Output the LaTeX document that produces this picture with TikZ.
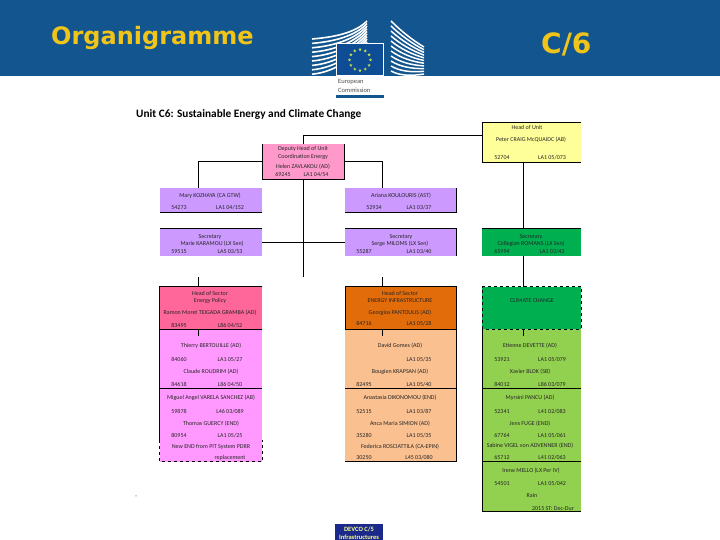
\documentclass[tikz,border=0pt]{standalone}
\usepackage{fontspec}
\setmainfont{Carlito}
\newfontfamily\bannerfont{DejaVu Sans}
\usetikzlibrary{positioning,calc,shapes.geometric}
\definecolor{ecBand}{HTML}{13558F}
\definecolor{ecGold}{HTML}{F0C419}
\definecolor{ecFlag}{HTML}{0F4C96}
\definecolor{ecStar}{HTML}{C4E04A}
\definecolor{ecNavy}{HTML}{1B2A8A}
\definecolor{ecPale}{HTML}{FFFF8C}
\definecolor{unitYellow}{HTML}{FFFF99}
\definecolor{unitPink}{HTML}{FF99CC}
\definecolor{unitLilac}{HTML}{CC99FF}
\definecolor{unitGreen}{HTML}{00B050}
\definecolor{sectorRed}{HTML}{FF6699}
\definecolor{sectorOrange}{HTML}{E36C0A}
\definecolor{staffMagenta}{HTML}{FF99FF}
\definecolor{staffPeach}{HTML}{FAC090}
\definecolor{staffGreen}{HTML}{92D050}
\tikzset{
  panel/.style={anchor=north west, inner sep=0pt, outer sep=0pt},
  rowtext/.style={anchor=base, yshift=-2pt, inner sep=0pt, font=\fontsize{6}{7}\selectfont, color=black!85},
  wire/.style={black, line width=0.8pt},
  dashwire/.style={black, line width=0.8pt, dashed},
  euStar/.style={star, star points=5, star point ratio=2.4, fill=ecStar, inner sep=0pt, minimum size=3.4pt}
}
\begin{document}
\begin{tikzpicture}[x=1pt,y=-1pt]
\useasboundingbox (0,0) rectangle (720,540);

% --- BANNER ---
\fill[ecBand] (0,0) rectangle (720,76);
\node[anchor=west, inner sep=0pt, font=\bannerfont\bfseries\fontsize{24}{26}\selectfont, color=ecGold]
  (bannerTitle) at (51,38) {Organigramme};
\node[anchor=west, inner sep=0pt, font=\bannerfont\bfseries\fontsize{28}{30}\selectfont, color=ecGold]
  (bannerCode) at (541,44) {C/6};

% --- LOGO ---
\foreach \k in {0,...,8} {
  \draw[white, line width=1.6pt]
    (312,{39+4.4*\k}) .. controls (335,{37+4.4*\k}) and (355,{33+3*\k}) .. (367,{21+2.6*\k});
}
\foreach \k in {0,...,10} {
  \draw[white, line width=1.5pt]
    (391,{21+5*\k}) .. controls (400,{30+4.6*\k}) and (412,{40+3.6*\k}) .. (424,{47+2.7*\k});
}
\fill[white] (335.7,43) rectangle (384,98);
\fill[ecFlag] (337,44) rectangle (383,75);
\fill[ecBand] (335.7,95.5) rectangle (384,98);
\foreach \s in {0,30,...,330} {
  \node[euStar] (star\s) at ({360+10.5*cos(\s)},{60+10.5*sin(\s)}) {};
}
\node[anchor=west, inner sep=0pt, font=\fontsize{6.5}{7}\selectfont, color=black!70] (logoEuropean) at (338,81.5) {European};
\node[anchor=west, inner sep=0pt, font=\fontsize{6.5}{7}\selectfont, color=black!70] (logoCommission) at (338,90.5) {Commission};

\node[anchor=west, inner sep=0pt, font=\bfseries\fontsize{11.3}{12}\selectfont] (unitTitle) at (136,114)
  {Unit C6: Sustainable Energy and Climate Change};

% --- BOXES ---
\node[panel, fill=unitYellow, minimum width=99pt, minimum height=40pt] (headBox) at (482,122) {};
\node[panel, fill=unitPink, minimum width=82.5pt, minimum height=35pt] (deputyBox) at (262,144) {};
\node[panel, fill=unitLilac, minimum width=102.5pt, minimum height=24pt] (maryBox) at (159.5,188) {};
\node[panel, fill=unitLilac, minimum width=111.5pt, minimum height=24pt] (arianaBox) at (345,188) {};
\node[panel, fill=unitLilac, minimum width=102.5pt, minimum height=28pt] (secLeftBox) at (159.5,228) {};
\node[panel, fill=unitLilac, minimum width=111.5pt, minimum height=28pt] (secMidBox) at (345,228) {};
\node[panel, fill=unitGreen, minimum width=99pt, minimum height=28pt] (secRightBox) at (482,228) {};
\node[panel, fill=sectorRed, minimum width=102.5pt, minimum height=42.5pt] (policyBox) at (159.5,286.5) {};
\node[panel, fill=sectorOrange, minimum width=111.5pt, minimum height=42.5pt] (infraBox) at (345,286.5) {};
\node[panel, fill=unitGreen, minimum width=99pt, minimum height=42.5pt] (climateBox) at (482,286.5) {};
\node[panel, fill=staffMagenta, minimum width=102.5pt, minimum height=132.5pt] (policyStaff) at (159.5,329) {};
\node[panel, fill=staffPeach, minimum width=111.5pt, minimum height=132.5pt] (infraStaff) at (345,329) {};
\node[panel, fill=staffGreen, minimum width=99pt, minimum height=182.5pt] (climateStaff) at (482,329) {};
\node[panel, fill=ecNavy, minimum width=48pt, minimum height=16pt] (devcoBox) at (335,524) {};

% --- BOX EDGES ---
\draw[wire] (headBox.north east) -- (headBox.north west) -- (headBox.south west) -- (headBox.south east);
\draw[wire] (deputyBox.north west) -- (deputyBox.south west) -- (deputyBox.south east) -- (deputyBox.north east);
\draw[wire] (maryBox.south west) -- (maryBox.south east);
\draw[wire] (arianaBox.north east) -- (arianaBox.south east) -- (arianaBox.south west);
\draw[wire] (secLeftBox.north west) -- (secLeftBox.north east);
\draw[wire] (secMidBox.north west) -- (secMidBox.north east) -- (secMidBox.south east);
\draw[wire] (secRightBox.north west) -- (secRightBox.north east);
\draw[wire] (policyBox.south east) -- (policyBox.south west) -- (policyBox.north west) -- (policyBox.north east);
\draw[wire] (infraBox.south west) rectangle (infraBox.north east);
\draw[dashwire] (climateBox.south west) rectangle (climateBox.north east);
\draw[wire] (policyStaff.north west) -- (159.5,440);
\draw[dashwire] (159.5,440) -- (policyStaff.south west) -- (policyStaff.south east) -- (262,440);
\draw[wire] (infraStaff.north east) -- (infraStaff.south east) -- (infraStaff.south west);
\draw[wire] (climateStaff.north west) -- (climateStaff.south west) -- (climateStaff.south east);
\foreach \boxName in {policyStaff,infraStaff,climateStaff} {
  \draw[wire] ($(\boxName.north west)+(0,59)$) -- ($(\boxName.north east)+(0,59)$);
}
\draw[wire] ($(climateStaff.north west)+(0,132)$) -- ($(climateStaff.north east)+(0,132)$);

% --- CONNECTORS ---
\coordinate (headTap) at (482,135);
\coordinate (deputyTop) at (303.3,144);
\coordinate (deputyFoot) at (303.3,179);
\coordinate (deputyEnd) at (303.3,277);
\draw[wire] (headTap) -| (deputyTop);
\draw[wire] (deputyBox.west) -| (198.3,188);
\draw[wire] (deputyBox.east) -| (382,188);
\draw[wire] (deputyFoot) -- (deputyEnd);
\draw[wire] (secLeftBox.east) -- (secMidBox.west);
\draw[wire] (523,162) -- (523,228);
\draw[wire] (523,256) -- (523,286.5);
\draw[wire] (198.3,277) -- (198.3,286.5);
\draw[wire] (382,277) -- (382,286.5);
\draw[wire] (198.3,329) -- (198.3,336);
\draw[wire] (382,329) -- (382,336);
\draw[wire] (523,329) -- (523,336);

% --- TEXT ROWS ---
\foreach \xv/\yv/\lab [count=\n] in {
  527/128/{Head of Unit}, 531/140/{Peter CRAIG McQUAIDC (AB)}, 502/158/{52704}, 552/158/{LA1 05/073},
  303/149/{Deputy Head of Unit}, 303/157/{Coordination Energy}, 303/167/{Helen ZAVLAKOU (AD)}, 283/175/{69245}, 316/175/{LA1 04/54},
  210/196/{Mary KOZHAYA (CA GTW)}, 179/208/{54273}, 230/208/{LA1 04/152},
  401/196/{Ariana KOULOURIS (AST)}, 374/208/{52934}, 419/208/{LA1 03/37},
  210/236/{Secretary}, 212/243/{Marie KARAMOU (LX Sen)}, 179/252/{59515}, 230/252/{LA5 03/53},
  401/236/{Secretary}, 400/243/{Serge MILOMS (LX Sen)}, 364/252/{55287}, 419/252/{LA1 03/40},
  531/236/{Secretary}, 531/243/{Collegian ROMANS (LX Sen)}, 502/252/{65994}, 552/252/{LA1 03/43},
  210/293/{Head of Sector}, 210/300/{Energy Policy}, 210/312/{Ramon Moret TEIGADA GRAMBA (AD)}, 179/325/{83495}, 230/325/{L86 04/52},
  400/293/{Head of Sector}, 400/300/{ENERGY INFRASTRUCTURE}, 400/312/{Georgios PANTOULIS (AD)}, 364/323/{84716}, 419/323/{LA1 05/28},
  532/300/{CLIMATE CHANGE}
} {
  \node[rowtext] (upper\n) at (\xv,\yv) {\lab};
}
\foreach \xv/\yv/\lab [count=\n] in {
  211/345/{Thierry BERTOUILLE (AD)}, 179/359/{84060}, 230/359/{LA1 05/27},
  211/371/{Claude ROUDRIM (AD)}, 179/384/{84618}, 230/384/{L86 04/50},
  211/397/{Miguel Angel VARELA SANCHEZ (AB)}, 179/411/{59878}, 230/411/{L46 03/089},
  211/423/{Thomas GUERCY (END)}, 179/435/{80954}, 230/435/{LA1 05/25},
  211/446/{New END from PIT System PDRR}, 230/457/{replacement},
  400/345/{David Gomes (AD)}, 419/359/{LA1 05/35},
  400/371/{Bougien KRAPSAN (AD)}, 364/384/{82495}, 419/384/{LA1 05/40},
  400/397/{Anastasia DIKONOMOU (END)}, 364/411/{52515}, 419/411/{LA1 03/87},
  400/423/{Anca Maria SIMION (AD)}, 364/435/{35280}, 419/435/{LA1 05/35},
  400/446/{Federica ROSCIATTILA (CA-EPIN)}, 364/457/{30250}, 419/457/{L45 03/080},
  530/345/{Etienne DEVETTE (AD)}, 502/359/{53921}, 552/359/{LA1 05/079},
  530/371/{Xavier BLOK (SB)}, 502/384/{84012}, 552/384/{L86 03/079},
  530/397/{Myrsini PANCU (AD)}, 502/411/{52341}, 552/411/{L41 02/083},
  530/423/{Jens FUGE (END)}, 502/435/{67764}, 552/435/{LA1 05/061},
  530/445/{Sabine VIGEL von ADVENNER (END)}, 502/457/{65712}, 552/457/{L41 02/063},
  531/470/{Irene MELLO (LX Per IV)}, 502/483/{54501}, 552/483/{LA1 05/042},
  532/495/{Rain}, 553/508/{2015 ST: Dec-Dur}
} {
  \node[rowtext] (lower\n) at (\xv,\yv) {\lab};
}

% --- FOOTER ---
\node[inner sep=0pt, font=\fontsize{6}{7}\selectfont] (strayMark) at (136,497) {,};
\node[inner sep=0pt, font=\bfseries\fontsize{6.5}{7}\selectfont, color=ecPale] (devcoTop) at (359,529) {DEVCO C/5};
\node[inner sep=0pt, font=\bfseries\fontsize{6.5}{7}\selectfont, color=ecPale] (devcoBottom) at (359,537) {Infrastructures};

\end{tikzpicture}
\end{document}
